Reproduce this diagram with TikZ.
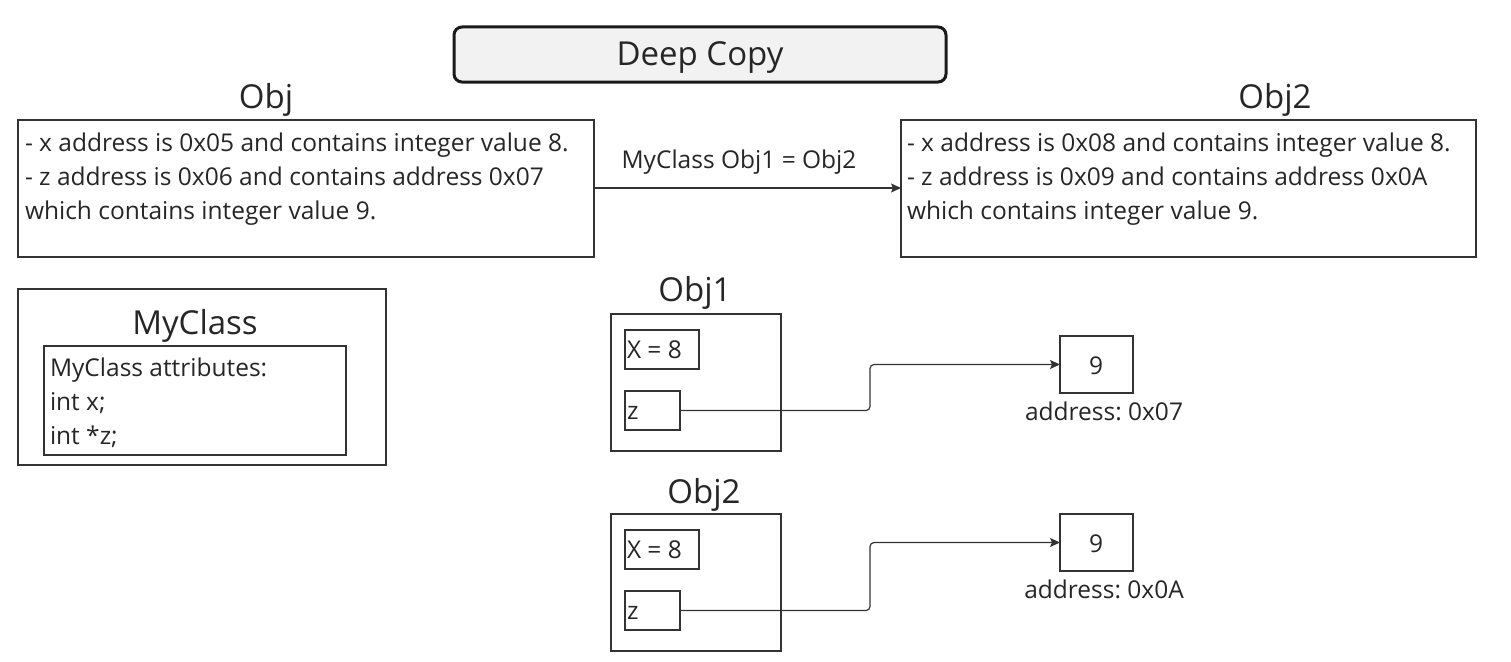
\documentclass[tikz,border=0pt]{standalone}
\usepackage{fontspec}
\setmainfont{Open Sans}
\usetikzlibrary{arrows.meta,positioning}
\definecolor{linegray}{HTML}{333333}
\definecolor{titlefill}{HTML}{F2F2F2}
\definecolor{titleline}{HTML}{1A1A1A}
\frenchspacing
\begin{document}
\begin{tikzpicture}[x=1pt, y=-1pt,
    every node/.style={inner sep=0pt, outer sep=0pt, text=black!85},
    box/.style={draw=linegray, line width=1.2pt, anchor=north west},
    titlebox/.style={draw=titleline, fill=titlefill, line width=3pt, rounded corners=8pt, anchor=north west},
    txt/.style={font=\fontsize{24.5}{29}\selectfont, anchor=base west},
    head/.style={font=\fontsize{33}{40}\selectfont, anchor=base},
    link/.style={draw=linegray, line width=1.2pt, rounded corners=4pt, -{Stealth[length=10pt, width=9pt, inset=2pt]}}]
    \useasboundingbox (0,0) rectangle (1511,661);

    % Titolo
    \node (title) [titlebox, minimum width=492pt, minimum height=55pt] at (454,27) {};
    \node (titletext) [head] at (700,66) {Deep Copy};

    % Oggetto di sinistra
    \node (objhead) [head] at (266,108) {Obj};
    \node (obj) [box, minimum width=576pt, minimum height=137pt] at (18,120) {};
    \node (objline1) [txt] at (25,151) {- x address is 0x05 and contains integer value 8.};
    \node (objline2) [txt] at (25,185) {- z address is 0x06 and contains address 0x07};
    \node (objline3) [txt] at (25,219) {which contains integer value 9.};

    % Oggetto di destra
    \node (copyhead) [head] at (1275,108) {Obj2};
    \node (copy) [box, minimum width=575pt, minimum height=137pt] at (901,120) {};
    \node (copyline1) [txt] at (907,151) {- x address is 0x08 and contains integer value 8.};
    \node (copyline2) [txt] at (907,185) {- z address is 0x09 and contains address 0x0A};
    \node (copyline3) [txt] at (907,219) {which contains integer value 9.};

    % Assegnazione
    \node (assign) [txt, anchor=base] at (739,168) {MyClass Obj1 = Obj2};
    \draw[link] (obj.east |- 0,188) -- (copy.west |- 0,188);

    % Classe
    \node (cls) [box, minimum width=368pt, minimum height=176pt] at (18,289) {};
    \node (clshead) [head] at (195,334) {MyClass};
    \node (attrs) [box, minimum width=302pt, minimum height=109pt] at (44,346) {};
    \node (attr1) [txt] at (50,376) {MyClass attributes:};
    \node (attr2) [txt] at (50,410) {int x;};
    \node (attr3) [txt] at (50,444) {int *z;};

    % Istanza Obj1
    \node (onehead) [head] at (695,301) {Obj1};
    \node (one) [box, minimum width=170pt, minimum height=137pt] at (611,314) {};
    \node (onex) [box, minimum width=74pt, minimum height=39pt] at (625,330) {};
    \node (onextext) [txt] at (627,358) {X = 8};
    \node (onez) [box, minimum width=55pt, minimum height=39pt] at (625,391) {};
    \node (oneztext) [txt] at (627,419) {z};
    \node (oneval) [box, minimum width=73pt, minimum height=57pt] at (1060,336) {};
    \node (onevaltext) [txt, anchor=base] at (1096,374) {9};
    \node (oneaddr) [txt, anchor=base] at (1104,420) {address: 0x07};

    % Istanza Obj2
    \node (twohead) [head] at (704,503) {Obj2};
    \node (two) [box, minimum width=170pt, minimum height=137pt] at (611,514) {};
    \node (twox) [box, minimum width=74pt, minimum height=39pt] at (625,530) {};
    \node (twoxtext) [txt] at (627,558) {X = 8};
    \node (twoz) [box, minimum width=55pt, minimum height=39pt] at (625,591) {};
    \node (twoztext) [txt] at (627,619) {z};
    \node (twoval) [box, minimum width=73pt, minimum height=57pt] at (1060,514) {};
    \node (twovaltext) [txt, anchor=base] at (1096,552) {9};
    \node (twoaddr) [txt, anchor=base] at (1104,598) {address: 0x0A};

    % Puntatori
    \draw[link] (onez.east) -- ++(190,0) |- (oneval.west);
    \draw[link] (twoz.east) -- ++(190,0) |- (twoval.west);
\end{tikzpicture}
\end{document}
